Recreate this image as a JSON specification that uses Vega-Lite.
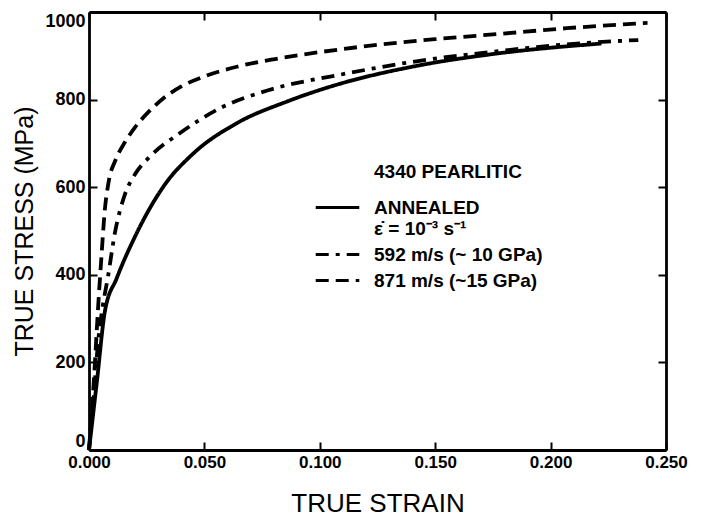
{
  "$schema": "https://vega.github.io/schema/vega-lite/v6.json",
  "width": 577,
  "height": 438,
  "autosize": {"type": "none"},
  "padding": {"left": 89, "top": 12, "right": 46, "bottom": 74},
  "background": "white",
  "config": {
    "view": {"stroke": null},
    "font": "Liberation Sans",
    "axis": {
      "grid": false,
      "domainColor": "black",
      "domainWidth": 2.8,
      "tickColor": "black",
      "tickWidth": 2,
      "tickSize": -8,
      "labelFont": "Liberation Sans",
      "labelFontWeight": "bold",
      "labelFontSize": 17,
      "labelColor": "black",
      "titleFont": "Liberation Sans",
      "titleFontWeight": "normal",
      "titleColor": "black"
    }
  },
  "data": {
    "values": [
      {"series": "ANNEALED", "strain": 0.0, "stress": 0},
      {"series": "ANNEALED", "strain": 0.0035, "stress": 160},
      {"series": "ANNEALED", "strain": 0.0069, "stress": 317},
      {"series": "ANNEALED", "strain": 0.012, "stress": 392},
      {"series": "ANNEALED", "strain": 0.02, "stress": 488},
      {"series": "ANNEALED", "strain": 0.033, "stress": 607},
      {"series": "ANNEALED", "strain": 0.045, "stress": 676},
      {"series": "ANNEALED", "strain": 0.064, "stress": 746},
      {"series": "ANNEALED", "strain": 0.086, "stress": 796},
      {"series": "ANNEALED", "strain": 0.108, "stress": 835},
      {"series": "ANNEALED", "strain": 0.14, "stress": 875},
      {"series": "ANNEALED", "strain": 0.178, "stress": 906},
      {"series": "ANNEALED", "strain": 0.222, "stress": 928},
      {"series": "592", "strain": 0.0, "stress": 0},
      {"series": "592", "strain": 0.002, "stress": 120},
      {"series": "592", "strain": 0.004, "stress": 250},
      {"series": "592", "strain": 0.006, "stress": 330},
      {"series": "592", "strain": 0.0082, "stress": 395},
      {"series": "592", "strain": 0.0112, "stress": 495},
      {"series": "592", "strain": 0.0156, "stress": 584},
      {"series": "592", "strain": 0.02, "stress": 630},
      {"series": "592", "strain": 0.027, "stress": 673},
      {"series": "592", "strain": 0.039, "stress": 722},
      {"series": "592", "strain": 0.057, "stress": 781},
      {"series": "592", "strain": 0.078, "stress": 822},
      {"series": "592", "strain": 0.108, "stress": 856},
      {"series": "592", "strain": 0.14, "stress": 886},
      {"series": "592", "strain": 0.178, "stress": 911},
      {"series": "592", "strain": 0.214, "stress": 929},
      {"series": "592", "strain": 0.238, "stress": 936},
      {"series": "871", "strain": 0.0, "stress": 0},
      {"series": "871", "strain": 0.002, "stress": 150},
      {"series": "871", "strain": 0.004, "stress": 330},
      {"series": "871", "strain": 0.0055, "stress": 450},
      {"series": "871", "strain": 0.0068, "stress": 545},
      {"series": "871", "strain": 0.0085, "stress": 612},
      {"series": "871", "strain": 0.0115, "stress": 662},
      {"series": "871", "strain": 0.0156, "stress": 703},
      {"series": "871", "strain": 0.02, "stress": 737},
      {"series": "871", "strain": 0.026, "stress": 773},
      {"series": "871", "strain": 0.032, "stress": 802},
      {"series": "871", "strain": 0.04, "stress": 830},
      {"series": "871", "strain": 0.05, "stress": 853},
      {"series": "871", "strain": 0.064, "stress": 875},
      {"series": "871", "strain": 0.08, "stress": 892},
      {"series": "871", "strain": 0.093, "stress": 903},
      {"series": "871", "strain": 0.12, "stress": 922},
      {"series": "871", "strain": 0.15, "stress": 938},
      {"series": "871", "strain": 0.178, "stress": 950},
      {"series": "871", "strain": 0.207, "stress": 963},
      {"series": "871", "strain": 0.242, "stress": 975}
    ]
  },
  "layer": [
    {
      "mark": {"type": "line", "color": "black", "strokeWidth": 3.8, "interpolate": "monotone", "strokeCap": "butt"},
      "encoding": {
        "x": {
          "field": "strain", "type": "quantitative",
          "scale": {"domain": [0, 0.25], "nice": false, "zero": false},
          "axis": {"values": [0, 0.05, 0.1, 0.15, 0.2, 0.25], "format": ".3f", "title": "TRUE STRAIN", "titleFontSize": 26, "labelPadding": 12, "titlePadding": 20, "labelFlush": false}
        },
        "y": {
          "field": "stress", "type": "quantitative",
          "scale": {"domain": [0, 1000], "nice": false},
          "axis": {"values": [0, 200, 400, 600, 800, 1000], "format": "d", "title": "TRUE STRESS (MPa)", "titleFontSize": 25, "labelFontSize": 18, "labelPadding": 12, "titlePadding": 7, "labelFlush": true}
        },
        "strokeDash": {
          "field": "series", "type": "nominal",
          "scale": {"domain": ["ANNEALED", "592", "871"], "range": [[1, 0], [13, 7, 4, 7], [13, 7]]},
          "legend": {
            "orient": "none",
            "legendX": 239,
            "legendY": 186,
            "title": null,
            "symbolType": "M-3,0H3",
            "symbolSize": 211,
            "symbolStrokeWidth": 3,
            "symbolStrokeColor": "black",
            "symbolFillColor": "transparent",
            "labelFont": "Liberation Sans",
            "labelFontWeight": "bold",
            "labelFontSize": 19,
            "labelColor": "black",
            "labelOffset": 27,
            "labelLimit": 400,
            "labelBaseline": "middle",
            "rowPadding": 6,
            "labelExpr": "datum.value == 'ANNEALED' ? ['ANNEALED', 'ε̇ = 10⁻³ s⁻¹'] : datum.value == '592' ? '592 m/s (~ 10 GPa)' : '871 m/s (~15 GPa)'"
          }
        }
      }
    },
    {
      "data": {"values": [{"label": "4340 PEARLITIC"}]},
      "mark": {"type": "text", "align": "left", "baseline": "middle", "font": "Liberation Sans", "fontWeight": "bold", "fontSize": 19, "color": "black"},
      "encoding": {
        "x": {"datum": 0.1235, "type": "quantitative", "scale": {"domain": [0, 0.25], "nice": false, "zero": false}, "axis": null},
        "y": {"datum": 635, "type": "quantitative", "scale": {"domain": [0, 1000], "nice": false}, "axis": null},
        "text": {"field": "label", "type": "nominal"}
      }
    },
    {
      "mark": {"type": "line", "opacity": 0},
      "encoding": {
        "x": {
          "field": "strain", "type": "quantitative",
          "scale": {"domain": [0, 0.25], "nice": false, "zero": false},
          "axis": {"orient": "top", "values": [0, 0.05, 0.1, 0.15, 0.2, 0.25], "labels": false, "title": null}
        },
        "y": {
          "field": "stress", "type": "quantitative",
          "scale": {"domain": [0, 1000], "nice": false},
          "axis": {"orient": "right", "values": [0, 200, 400, 600, 800, 1000], "labels": false, "title": null}
        },
        "detail": {"field": "series"}
      }
    }
  ],
  "resolve": {"scale": {"x": "independent", "y": "independent"}}
}
